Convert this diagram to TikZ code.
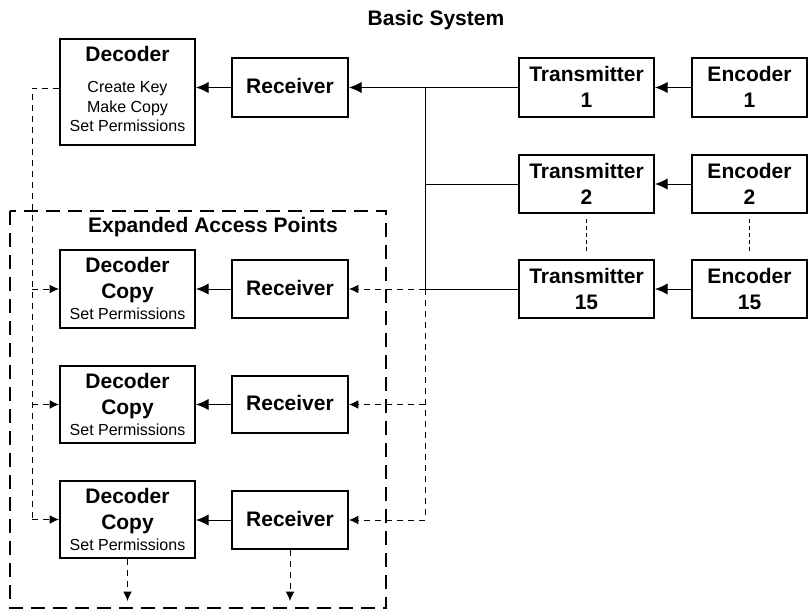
\documentclass[tikz,border=0pt]{standalone}
\usepackage{fontspec}
\setmainfont{Liberation Sans}
\usetikzlibrary{arrows.meta}
\begin{document}
\begin{tikzpicture}[x=0.75pt,y=-0.75pt,
  box/.style={draw, line width=1.5pt, inner sep=0pt},
  wbig/.style={minimum width=135*0.75pt},
  wrec/.style={minimum width=116*0.75pt},
  wenc/.style={minimum width=115*0.75pt},
  hsz/.style={minimum height=#1*0.75pt},
  bt/.style={font=\fontsize{15.75}{18}\selectfont\bfseries, inner sep=0pt, anchor=base},
  st/.style={font=\fontsize{12}{14}\selectfont, inner sep=0pt, anchor=base},
  conn/.style={line width=0.75pt},
  arr/.style={line width=0.75pt, -{Latex[length=9.5pt,width=8.5pt]}},
  dconn/.style={line width=0.75pt, dash pattern=on 4.5pt off 3.75pt},
  darr/.style={line width=0.75pt, dash pattern=on 4.5pt off 3.75pt, -{Latex[length=7pt,width=6.5pt]}},
  dotl/.style={line width=0.75pt, dash pattern=on 3pt off 2.25pt},
  region/.style={draw, line width=2.2pt, dash pattern=on 10.5pt off 6pt}
]
\useasboundingbox (0,0) rectangle (808,611);

% titles
\node[bt] (title) at (436,25) {Basic System};
\node[bt] (exptitle) at (213,232) {Expanded Access Points};

% expanded region
\draw[region] (10,211) rectangle (386,608);

% basic decoder
\node[box, wbig, hsz=106] (dec) at (127.5,92) {};
\node[bt] (dect1) at (127.5,61) {Decoder};
\node[st] (dect2) at (127.5,92) {Create Key};
\node[st] (dect3) at (127.5,112) {Make Copy};
\node[st] (dect4) at (127.5,131) {Set Permissions};

% receivers
\node[box, wrec, hsz=59] (rec0) at (290,87.5) {};
\node[bt] (rec0t) at (290,93.5) {Receiver};
\node[box, wrec, hsz=58] (rec1) at (290,289) {};
\node[bt] (rec1t) at (290,295) {Receiver};
\node[box, wrec, hsz=57] (rec2) at (290,404.5) {};
\node[bt] (rec2t) at (290,410.5) {Receiver};
\node[box, wrec, hsz=58] (rec3) at (290,520) {};
\node[bt] (rec3t) at (290,526) {Receiver};

% decoder copies
\node[box, wbig, hsz=78] (dc1) at (127.5,289) {};
\node[bt] (dc1a) at (127.5,272) {Decoder};
\node[bt] (dc1b) at (127.5,298) {Copy};
\node[st] (dc1c) at (127.5,319) {Set Permissions};
\node[box, wbig, hsz=77] (dc2) at (127.5,404.5) {};
\node[bt] (dc2a) at (127.5,388) {Decoder};
\node[bt] (dc2b) at (127.5,414) {Copy};
\node[st] (dc2c) at (127.5,435) {Set Permissions};
\node[box, wbig, hsz=77] (dc3) at (127.5,519.5) {};
\node[bt] (dc3a) at (127.5,503) {Decoder};
\node[bt] (dc3b) at (127.5,529) {Copy};
\node[st] (dc3c) at (127.5,550) {Set Permissions};

% transmitters
\node[box, wbig, hsz=59] (t1) at (586.5,87.5) {};
\node[bt] (t1a) at (586.5,81) {Transmitter};
\node[bt] (t1b) at (586.5,107) {1};
\node[box, wbig, hsz=58] (t2) at (586.5,184) {};
\node[bt] (t2a) at (586.5,178) {Transmitter};
\node[bt] (t2b) at (586.5,204) {2};
\node[box, wbig, hsz=58] (t15) at (586.5,289) {};
\node[bt] (t15a) at (586.5,283) {Transmitter};
\node[bt] (t15b) at (586.5,309) {15};

% encoders
\node[box, wenc, hsz=59] (e1) at (749.5,87.5) {};
\node[bt] (e1a) at (749.5,81) {Encoder};
\node[bt] (e1b) at (749.5,107) {1};
\node[box, wenc, hsz=58] (e2) at (749.5,184) {};
\node[bt] (e2a) at (749.5,178) {Encoder};
\node[bt] (e2b) at (749.5,204) {2};
\node[box, wenc, hsz=58] (e15) at (749.5,289) {};
\node[bt] (e15a) at (749.5,283) {Encoder};
\node[bt] (e15b) at (749.5,309) {15};

% bus coordinates
\coordinate (b1) at (425,87.5);
\coordinate (b2) at (425,184);
\coordinate (b15) at (425,289);
\coordinate (b3) at (425,404.5);
\coordinate (b4) at (425,520);
\coordinate (l0) at (32,88);
\coordinate (l3) at (32,519.5);
\coordinate (d1) at (127.5,601);
\coordinate (d2) at (290,601);

% encoder -> transmitter
\draw[arr] (e1.west) -- (t1.east);
\draw[arr] (e2.west) -- (t2.east);
\draw[arr] (e15.west) -- (t15.east);

% transmitters -> bus -> receiver
\draw[arr] (t1.west) -- (rec0.east);
\draw[conn] (b1) -- (b15);
\draw[conn] (t2.west) -- (b2);
\draw[conn] (t15.west) -- (b15);
\draw[darr] (b15) -- (rec1.east);
\draw[dconn] (b15) -- (b4);
\draw[darr] (b3) -- (rec2.east);
\draw[darr] (b4) -- (rec3.east);

% receiver -> decoder
\draw[arr] (rec0.west) -- (rec0.west -| dec.east);
\draw[arr] (rec1.west) -- (dc1.east);
\draw[arr] (rec2.west) -- (dc2.east);
\draw[arr] (rec3.west) -- (rec3.west -| dc3.east);

% decoder copy line
\draw[dconn] (dec.west |- l0) -- (l0) -- (l3);
\draw[darr] (l0 |- dc1.west) -- (dc1.west);
\draw[darr] (l0 |- dc2.west) -- (dc2.west);
\draw[darr] (l3) -- (dc3.west);

% dotted continuation
\draw[dotl] ([yshift=-5*0.75pt]t2.south) -- ([yshift=7*0.75pt]t15.north);
\draw[dotl] ([yshift=-5*0.75pt]e2.south) -- ([yshift=7*0.75pt]e15.north);

% outputs down
\draw[darr] (dc3.south) -- (d1);
\draw[darr] (rec3.south) -- (d2);
\end{tikzpicture}
\end{document}
